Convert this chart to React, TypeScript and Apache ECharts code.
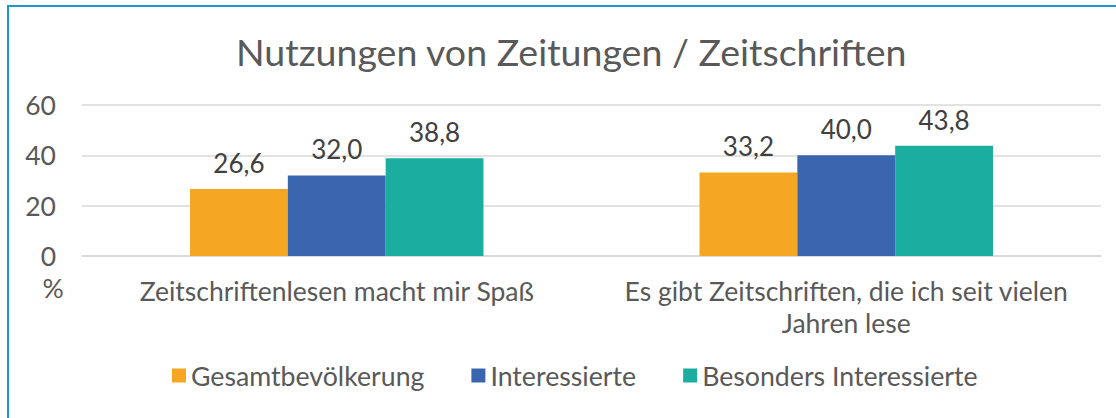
import React, { useEffect, useRef } from "react";
import * as echarts from "echarts";

const categories = [
  "Zeitschriftenlesen macht mir Spaß",
  "Es gibt Zeitschriften, die ich seit vielen\nJahren lese",
];
const seriesNames = ["Gesamtbevölkerung", "Interessierte", "Besonders Interessierte"];
const gesamt = [26.6, 33.2];
const interessierte = [32.0, 40.0];
const besonders = [38.8, 43.8];
const colors = ["#F5A623", "#3A66B0", "#1BAEA0"];
const yTicks = [0, 20, 40, 60];

export default function App() {
  const ref = useRef<HTMLDivElement>(null);
  useEffect(() => {
    if (!ref.current) return;
    const chart = echarts.init(ref.current, null, { renderer: "svg" });
    const font = "Lato";
    const values = [gesamt, interessierte, besonders];
    chart.setOption({
      animation: false,
      textStyle: { fontFamily: font },
      title: {
        text: "Nutzungen von Zeitungen / Zeitschriften",
        left: 231,
        top: 27,
        textStyle: { fontFamily: font, fontSize: 37.5, fontWeight: "normal", color: "#595959" },
      },
      legend: {
        data: seriesNames,
        bottom: 24,
        left: 167,
        itemWidth: 14,
        itemHeight: 14,
        itemGap: 47,
        icon: "rect",
        textStyle: { fontFamily: font, fontSize: 26.7, color: "#595959" },
      },
      grid: { left: 82, right: 15, top: 105, bottom: 162, containLabel: false },
      xAxis: {
        type: "category",
        data: categories,
        axisLine: { lineStyle: { color: "#d9d9d9", width: 1.5 } },
        axisTick: { show: false },
        axisLabel: {
          fontFamily: font,
          fontSize: 26.5,
          color: "#595959",
          margin: 19,
          lineHeight: 32,
          interval: 0,
        },
      },
      yAxis: {
        type: "value",
        min: yTicks[0],
        max: yTicks[yTicks.length - 1],
        interval: 20,
        axisLine: { show: false },
        axisTick: { show: false },
        splitLine: { lineStyle: { color: "#d9d9d9", width: 1.5 } },
        axisLabel: { fontFamily: font, fontSize: 26.5, color: "#595959", margin: 26 },
      },
      graphic: [
        {
          type: "rect",
          shape: { x: 8, y: 6, width: 1300, height: 600 },
          style: { fill: "none", stroke: "#1E96D6", lineWidth: 2 },
          silent: true,
        },
        {
          type: "text",
          x: 53,
          y: 288,
          style: {
            text: "%",
            fontFamily: font,
            fontSize: 26.5,
            fill: "#595959",
            align: "center",
            verticalAlign: "middle",
          },
        },
      ],
      series: seriesNames.map((name, i) => ({
        name,
        type: "bar",
        data: values[i],
        barGap: "0%",
        barCategoryGap: "42.4%",
        itemStyle: { color: colors[i] },
        label: {
          show: true,
          position: "top",
          distance: 13,
          fontFamily: font,
          fontSize: 26,
          color: "#404040",
          formatter: (p: any) => p.value.toFixed(1).replace(".", ","),
        },
      })),
    });
    return () => chart.dispose();
  }, []);
  return (
    <div
      ref={ref}
      style={{ position: "absolute", left: 0, top: 0, width: 1116, height: 418, background: "#fff" }}
    />
  );
}
